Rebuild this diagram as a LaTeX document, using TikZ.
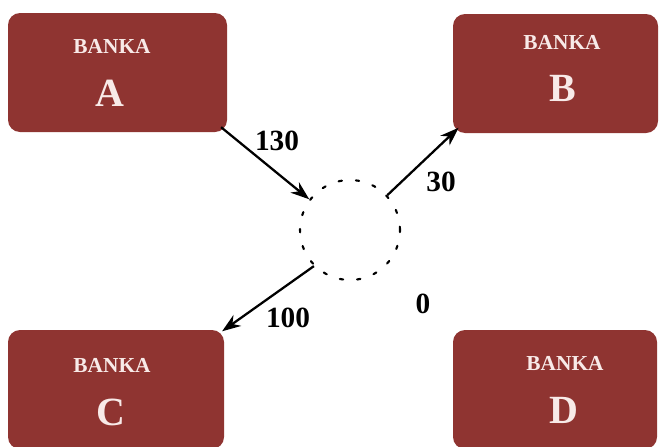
\documentclass[tikz,border=0pt]{standalone}
\usepackage{fontspec}
\setmainfont{Liberation Serif}
\usetikzlibrary{arrows.meta}
\definecolor{bankred}{RGB}{143,52,49}
\definecolor{banktext}{RGB}{248,234,232}

\begin{document}
\begin{tikzpicture}[x=0.75pt,y=-0.75pt,
    bank/.style={fill=bankred,rounded corners=9pt,inner sep=0pt,minimum height=89.25pt},
    bname/.style={text=banktext,font=\bfseries\fontsize{16}{18}\selectfont},
    bletter/.style={text=banktext,font=\bfseries\fontsize{30}{34}\selectfont},
    flow/.style={line width=1.7pt,-{Stealth[length=14pt,width=10pt]}},
    amount/.style={font=\bfseries\fontsize{22}{24}\selectfont}]
      \useasboundingbox(0,0)rectangle(659,446);
      
      \node[bank,minimum width=164.25pt](A) at (117.5,72.5){};
      \node[bank,minimum width=153.75pt](B) at (555.5,73.5){};
      \node[bank,minimum width=162pt](C) at (116,389.5){};
      \node[bank,minimum width=153pt](D) at (555,389.5){};
      
      \node[bname](nA) at (112,46){BANKA};
      \node[bletter](lA) at (110,93){A};
      \node[bname](nB) at (562,42){BANKA};
      \node[bletter](lB) at (563,88){B};
      \node[bname](nC) at (112,365){BANKA};
      \node[bletter](lC) at (111,412){C};
      \node[bname](nD) at (565,363){BANKA};
      \node[bletter](lD) at (564,410){D};
      
      \node[circle,draw,minimum size=75pt,line width=1.6pt,line cap=round,
            dash pattern=on 2.5pt off 10.5pt](hub) at (350,230){};
      
      \draw[flow,shorten <=-6pt](A.south east)--(hub.143);
      \draw[flow,shorten >=-6pt](hub.43)--(B.south west);
      \draw[flow,shorten >=-2pt](hub.225)--(C.north east);
      
      \node[amount](fAB) at (277,141){130};
      \node[amount](fB) at (441,182){30};
      \node[amount](fC) at (288,318){100};
      \node[amount](fD) at (423,304){0};
    \end{tikzpicture}
\end{document}
